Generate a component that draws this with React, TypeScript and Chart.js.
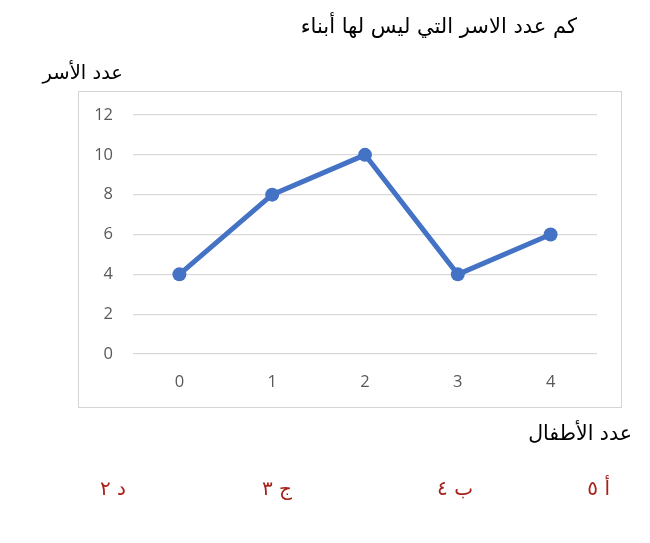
import React, { useEffect, useRef } from "react";
import { Chart, registerables } from "chart.js";

Chart.register(...registerables);

const categories = ["0", "1", "2", "3", "4"];
const familyCounts = [4, 8, 10, 4, 6];
const yTicks = [0, 2, 4, 6, 8, 10, 12];

const chartTitle = "كم عدد الاسر التي ليس لها أبناء";
const yAxisTitle = "عدد الأسر";
const xAxisTitle = "عدد الأطفال";
const choices = ["أ ٥", "ب ٤", "ج ٣", "د ٢"];

const ARABIC_FONT = '"DejaVu Sans", "Noto Sans", sans-serif';

export default function App() {
  const canvasRef = useRef<HTMLCanvasElement | null>(null);

  useEffect(() => {
    document.body.style.margin = "0";
    const canvas = canvasRef.current;
    if (!canvas) return;
    const chart = new Chart(canvas, {
      type: "line",
      data: {
        labels: categories,
        datasets: [
          {
            data: familyCounts,
            borderColor: "#4472c4",
            backgroundColor: "#4472c4",
            borderWidth: 5,
            pointRadius: 7,
            pointBorderWidth: 0,
            pointBackgroundColor: "#4472c4",
            tension: 0,
          },
        ],
      },
      options: {
        responsive: false,
        animation: false,
        layout: { padding: { left: 93, top: 115, right: 53, bottom: 149 } },
        plugins: { legend: { display: false }, tooltip: { enabled: false }, title: { display: false } },
        scales: {
          x: {
            type: "category",
            offset: true,
            grid: { display: false, drawTicks: false },
            border: { display: false },
            ticks: {
              color: "#595959",
              padding: 18,
              font: { family: '"Open Sans", sans-serif', size: 16.5 },
            },
            afterFit: (s: any) => {
              s.height = 40;
            },
          },
          y: {
            min: 0,
            max: 12,
            afterBuildTicks: (s: any) => {
              s.ticks = yTicks.map((v) => ({ value: v }));
            },
            grid: { color: "#d9d9d9", lineWidth: 1.3, drawTicks: false },
            border: { display: false },
            ticks: {
              color: "#595959",
              padding: 20,
              font: { family: '"Open Sans", sans-serif', size: 16.5 },
            },
            afterFit: (s: any) => {
              s.width = 40;
            },
          },
        },
      },
    });
    return () => chart.destroy();
  }, []);

  const textBase: React.CSSProperties = {
    position: "absolute",
    fontFamily: ARABIC_FONT,
    whiteSpace: "nowrap",
    lineHeight: "1",
    direction: "rtl",
  };

  return (
    <div style={{ position: "relative", width: 650, height: 543, background: "#ffffff", overflow: "hidden" }}>
      <div
        style={{
          position: "absolute",
          left: 78,
          top: 91,
          width: 542,
          height: 315,
          border: "1.3px solid #d4d4d4",
        }}
      />
      <canvas ref={canvasRef} width={650} height={543} style={{ position: "absolute", left: 0, top: 0 }} />
      <div style={{ ...textBase, right: 73, top: 16, fontSize: 21, color: "#000" }}>{chartTitle}</div>
      <div style={{ ...textBase, right: 527, top: 63, fontSize: 19.5, color: "#000" }}>{yAxisTitle}</div>
      <div style={{ ...textBase, right: 18, top: 423, fontSize: 20.5, color: "#000" }}>{xAxisTitle}</div>
      {choices.map((c, i) => (
        <div
          key={c}
          style={{
            ...textBase,
            right: [40, 177, 358, 524][i],
            top: 478,
            fontSize: 20,
            color: "#a8201a",
          }}
        >
          {c}
        </div>
      ))}
    </div>
  );
}
